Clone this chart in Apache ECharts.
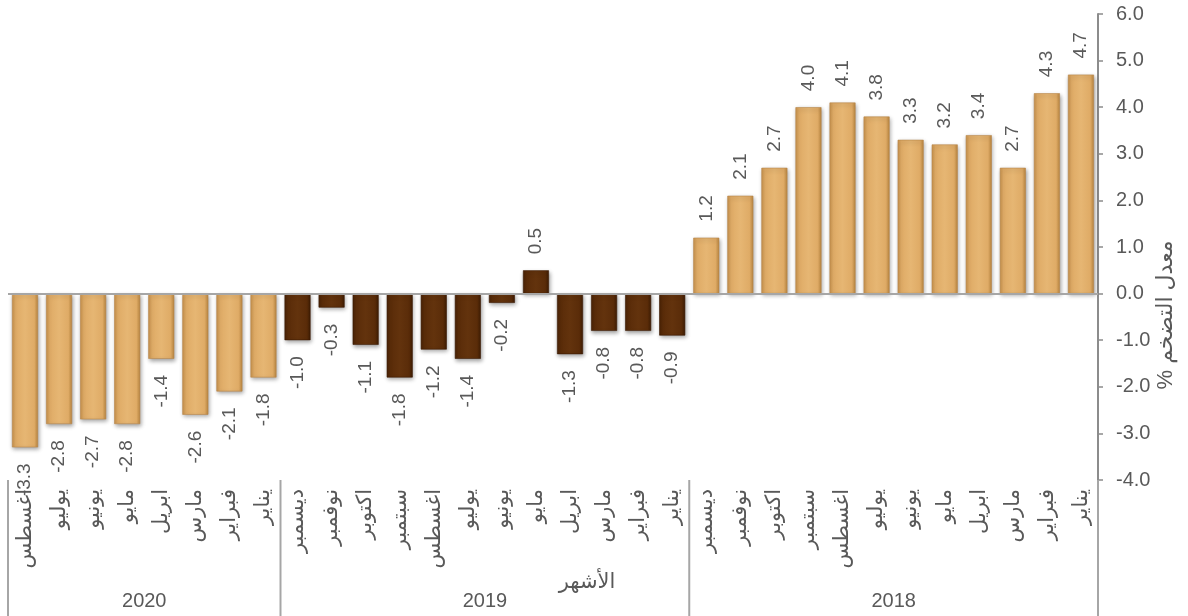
<!DOCTYPE html>
<html>
<head>
<meta charset="utf-8">
<script src="https://cdn.jsdelivr.net/npm/echarts@6/dist/echarts.min.js"></script>
<style>
html,body{margin:0;padding:0;background:#fff;}
#chart{width:1188px;height:616px;}
</style>
</head>
<body>
<div id="chart"></div>
<script>
// ---- data ----
const categories = [
  'يناير','فبراير','مارس','ابريل','مايو','يونيو','يوليو','اغسطس','سبتمبر','اكتوبر','نوفمبر','ديسمبر',
  'يناير','فبراير','مارس','ابريل','مايو','يونيو','يوليو','اغسطس','سبتمبر','اكتوبر','نوفمبر','ديسمبر',
  'يناير','فبراير','مارس','ابريل','مايو','يونيو','يوليو','اغسطس'
];
const years = ['2018', '2019', '2020'];
const monthsPerYear = [12, 12, 8];
const values2018 = [4.7, 4.3, 2.7, 3.4, 3.2, 3.3, 3.8, 4.1, 4.0, 2.7, 2.1, 1.2];
const values2019 = [-0.9, -0.8, -0.8, -1.3, 0.5, -0.2, -1.4, -1.2, -1.8, -1.1, -0.3, -1.0];
const values2020 = [-1.8, -2.1, -2.6, -1.4, -2.8, -2.7, -2.8, -3.3];
const yTicks = { min: -4, max: 6, interval: 1 };
const yAxisTitle = 'معدل التضخم %\u200F';
const xAxisTitle = 'الأشهر';

// ---- styles ----
const textColor = '#595959';
const font = 'Arial, "Liberation Sans", "DejaVu Sans", sans-serif';
function grad(c0, c1, c2, c3) {
  return new echarts.graphic.LinearGradient(0, 0, 1, 0, [
    { offset: 0, color: c0 }, { offset: 0.14, color: c1 },
    { offset: 0.5, color: c2 }, { offset: 0.86, color: c1 }, { offset: 1, color: c3 }
  ]);
}
const tanStyle = {
  color: grad('#C8924C', '#DFAB66', '#E6B673', '#B9853F'),
  borderColor: '#B8864A', borderWidth: 0.6,
  shadowColor: 'rgba(0,0,0,0.35)', shadowBlur: 4, shadowOffsetX: 1, shadowOffsetY: 2
};
const brownStyle = {
  color: grad('#4A2305', '#5A2C09', '#63330D', '#3E1C03'),
  borderColor: '#3A1A03', borderWidth: 0.6,
  shadowColor: 'rgba(0,0,0,0.35)', shadowBlur: 4, shadowOffsetX: 1, shadowOffsetY: 2
};
const groupStyles = [tanStyle, brownStyle, tanStyle];

const groups = [values2018, values2019, values2020];
const barData = [];
groups.forEach((arr, gi) => {
  arr.forEach(v => {
    barData.push({
      value: v,
      itemStyle: groupStyles[gi],
      label: v >= 0 ? { position: 'top', align: 'left' } : { position: 'bottom', align: 'right' }
    });
  });
});

// group boundaries and centres derived from month counts
const boundaries = [0];
monthsPerYear.forEach(n => boundaries.push(boundaries[boundaries.length - 1] + n));
const yearCentres = years.map((y, i) => [(boundaries[i] + boundaries[i + 1]) / 2, 0.11]);
const total = boundaries[boundaries.length - 1];

const chart = echarts.init(document.getElementById('chart'));
chart.setOption({
  animation: false,
  backgroundColor: '#ffffff',
  grid: [
    { left: 8, right: 90, top: 14, bottom: 136 },
    { left: 8, right: 90, top: 480, bottom: 0 }
  ],
  xAxis: [
    {
      type: 'category', gridIndex: 0, data: categories, inverse: true,
      axisLine: { show: false, onZero: false }, axisTick: { show: false },
      axisLabel: { interval: 0, rotate: 90, margin: 9, color: textColor, fontSize: 21, fontFamily: font },
      splitLine: { show: false }
    },
    {
      type: 'value', gridIndex: 1, min: 0, max: total, inverse: true, show: false
    }
  ],
  yAxis: [
    {
      type: 'value', gridIndex: 0, position: 'right', min: yTicks.min, max: yTicks.max, interval: yTicks.interval,
      axisLine: { show: true, lineStyle: { color: '#8C8C8C', width: 2 } },
      axisTick: { show: true, length: 5, lineStyle: { color: '#8C8C8C', width: 1.5 } },
      axisLabel: { margin: 18, color: textColor, fontSize: 20, fontFamily: font, formatter: v => v.toFixed(1) },
      splitLine: { show: false }
    },
    { type: 'value', gridIndex: 1, min: 0, max: 1, show: false }
  ],
  series: [
    {
      type: 'bar', xAxisIndex: 0, yAxisIndex: 0, barWidth: 26, data: barData,
      label: {
        show: true, rotate: 90, distance: 16, verticalAlign: 'middle',
        color: textColor, fontSize: 19, fontFamily: font,
        formatter: p => p.value.toFixed(1)
      },
      markLine: {
        silent: true, symbol: 'none', label: { show: false },
        lineStyle: { color: '#A6A6A6', width: 2, type: 'solid' },
        data: [{ yAxis: 0 }]
      }
    },
    {
      type: 'custom', xAxisIndex: 1, yAxisIndex: 1, clip: false, silent: true,
      data: boundaries.map(b => [b, 0]),
      renderItem: (params, api) => {
        const x = api.value(0);
        const p1 = api.coord([x, 1]);
        const p2 = api.coord([x, 0]);
        return { type: 'line', shape: { x1: p1[0], y1: p1[1], x2: p2[0], y2: p2[1] },
                 style: { stroke: '#A6A6A6', lineWidth: 2 } };
      }
    },
    {
      type: 'custom', xAxisIndex: 1, yAxisIndex: 1, clip: false, silent: true,
      data: yearCentres,
      renderItem: (params, api) => {
        const p = api.coord([api.value(0), api.value(1)]);
        return { type: 'text', x: p[0], y: p[1],
                 style: { text: years[params.dataIndex], fill: textColor, fontSize: 20, fontFamily: font,
                          align: 'center', verticalAlign: 'middle' } };
      }
    }
  ],
  graphic: [
    { type: 'text', x: 1166, y: 315, rotation: Math.PI / 2,
      style: { text: yAxisTitle, fill: textColor, fontSize: 22, fontFamily: font, align: 'center', verticalAlign: 'middle' } },
    { type: 'text', x: 587, y: 582,
      style: { text: xAxisTitle, fill: textColor, fontSize: 21, fontFamily: font, align: 'center', verticalAlign: 'middle' } }
  ]
});
</script>
</body>
</html>
